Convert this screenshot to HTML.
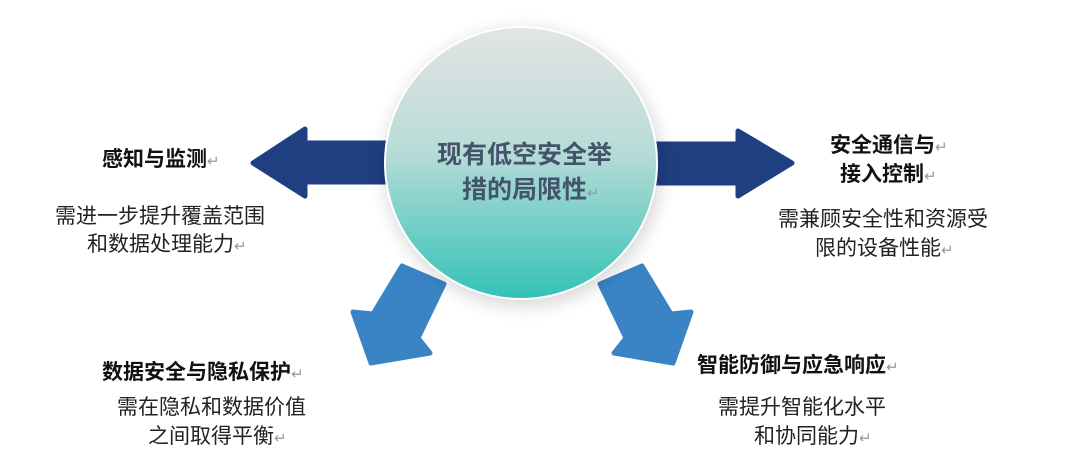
<!DOCTYPE html>
<html><head><meta charset="utf-8"><style>
body{margin:0;width:1066px;height:466px;background:#fff;position:relative;overflow:hidden;font-family:"Liberation Sans","Noto Sans CJK SC",sans-serif;}
.l{position:absolute;white-space:nowrap;line-height:28px;height:28px;font-size:21px;color:#222}
.t{font-weight:bold;color:#111}
.r{color:#999;font-weight:normal;font-size:15px}
.c{font-size:25px;font-weight:bold;color:#44546a;line-height:34px;height:34px}
</style></head><body>
<svg width="1066" height="466" style="position:absolute;left:0;top:0">
<defs>
<linearGradient id="g" x1="0" y1="0" x2="0" y2="1">
<stop offset="0" stop-color="#e4e4e4"/><stop offset="0.45" stop-color="#b9dcd8"/><stop offset="1" stop-color="#33c2b6"/></linearGradient>
<filter id="s" x="-30%" y="-30%" width="160%" height="160%"><feGaussianBlur stdDeviation="9"/></filter>
</defs>
<polygon points="390,143 305,143 305,129 253,163 305,196 305,182 390,182" fill="#1f3f80" stroke="#1f3f80" stroke-width="5" stroke-linejoin="round"/>
<polygon points="650,144 738,144 738,131 792,163 738,196 738,183 650,183" fill="#1f3f80" stroke="#1f3f80" stroke-width="5" stroke-linejoin="round"/>
<polygon points="402,266 444,284 418,338 430,353 371,363 353,312 373,314" fill="#3a84c6" stroke="#3a84c6" stroke-width="5" stroke-linejoin="round"/>
<polygon points="642,266 600,284 626,338 614,353 673,363 691,312 671,314" fill="#3a84c6" stroke="#3a84c6" stroke-width="5" stroke-linejoin="round"/>
<circle cx="523" cy="168" r="138" fill="#000" opacity="0.16" filter="url(#s)"/>
<circle cx="521" cy="163" r="136" fill="url(#g)" stroke="#fff" stroke-width="2"/>
</svg>
<div class="l c" style="left:437px;top:138px">现有低空安全举</div>
<div class="l c" style="left:462px;top:173px">措的局限性<span class="r">↵</span></div>
<div class="l t" style="left:102px;top:146px">感知与监测<span class="r">↵</span></div>
<div class="l" style="left:55px;top:203px">需进一步提升覆盖范围</div>
<div class="l" style="left:87px;top:231px">和数据处理能力<span class="r">↵</span></div>
<div class="l t" style="left:830px;top:132px">安全通信与<span class="r">↵</span></div>
<div class="l t" style="left:840px;top:161px">接入控制<span class="r">↵</span></div>
<div class="l" style="left:778px;top:206px">需兼顾安全性和资源受</div>
<div class="l" style="left:815px;top:235px">限的设备性能<span class="r">↵</span></div>
<div class="l t" style="left:102px;top:359px">数据安全与隐私保护<span class="r">↵</span></div>
<div class="l" style="left:117px;top:394px">需在隐私和数据价值</div>
<div class="l" style="left:148px;top:423px">之间取得平衡<span class="r">↵</span></div>
<div class="l t" style="left:697px;top:352px">智能防御与应急响应<span class="r">↵</span></div>
<div class="l" style="left:718px;top:394px">需提升智能化水平</div>
<div class="l" style="left:754px;top:423px">和协同能力<span class="r">↵</span></div>
</body></html>
